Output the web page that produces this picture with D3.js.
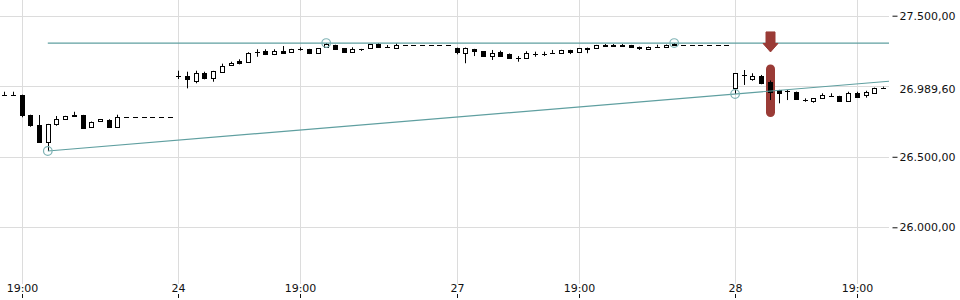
<!DOCTYPE html>
<html lang="de">
<head>
<meta charset="utf-8">
<title>Chart</title>
<script type="text/javascript" src="https://d3js.org/d3.v7.min.js"></script>
<style>
body { margin: 0; background: #fff; }
text { font-family: "DejaVu Sans", sans-serif; font-size: 11px; fill: #111; }
</style>
</head>
<body>
<div id="container"></div>
<script type="text/javascript">
// 15 min candles, index based x axis
var open = [26938,26938,26938,26796,26725,26607,26730,26766,26792,26795,26709,26751,26759,26713,
  26785,26785,26785,26785,26785,26785,
  27075,27075,27039,27092,27056,27103,27150,27181,27174,27243,27252,27231,27248,27243,27262,27264,27234,27276,27292,27269,27241,27264,27269,27299,27280,27269,
  27295,27295,27295,27295,27295,27295,
  27273,27238,27264,27248,27214,27245,27231,27198,27198,27228,27232,27237,27234,27257,27241,27273,27273,27292,27292,27292,27292,27280,27262,27280,27276,27299,
  27292,27292,27292,27292,27292,27292,
  26985,27080,27051,27073,27030,26973,26966,26961,26902,26895,26914,26931,26931,26898,26950,26938,26950,26990];
var high = [26961,26961,26940,26798,26796,26733,26789,26790,26819,26797,26750,26767,26766,26798,
  26785,26785,26785,26785,26785,26785,
  27110,27103,27110,27103,27109,27160,27174,27191,27241,27262,27262,27262,27285,27265,27276,27265,27270,27306,27294,27270,27276,27265,27298,27306,27292,27304,
  27295,27295,27295,27295,27295,27295,
  27274,27274,27265,27249,27257,27252,27232,27214,27248,27245,27245,27257,27258,27258,27270,27274,27293,27299,27299,27299,27293,27281,27281,27294,27295,27306,
  27292,27292,27292,27292,27292,27292,
  27092,27115,27092,27080,27041,26974,26973,26962,26914,26915,26950,26950,26932,26961,26961,26968,26990,26997];
var low = [26938,26938,26780,26713,26603,26541,26720,26765,26788,26699,26706,26750,26712,26709,
  26785,26785,26785,26785,26785,26785,
  27051,26985,27021,27049,27032,27096,27149,27155,27167,27209,27221,27221,27237,27242,27252,27228,27233,27275,27265,27238,27240,27250,27268,27275,27271,27268,
  27295,27295,27295,27295,27295,27295,
  27226,27163,27214,27215,27186,27209,27199,27174,27197,27209,27214,27236,27233,27228,27240,27234,27272,27284,27284,27283,27275,27257,27261,27279,27275,27286,
  27292,27292,27292,27292,27292,27292,
  26945,27009,27039,27014,26902,26879,26902,26906,26890,26883,26913,26926,26897,26897,26919,26919,26949,26989];
var close = [26938,26938,26796,26725,26607,26732,26766,26789,26795,26706,26749,26766,26713,26785,
  26785,26785,26785,26785,26785,26785,
  27074,27049,27092,27056,27108,27146,27167,27163,27233,27246,27228,27250,27238,27262,27261,27234,27269,27299,27266,27243,27264,27263,27297,27276,27281,27295,
  27295,27295,27295,27295,27295,27295,
  27245,27273,27250,27216,27238,27217,27200,27199,27238,27229,27226,27238,27257,27241,27269,27262,27292,27285,27285,27283,27276,27269,27280,27281,27294,27292,
  27292,27292,27292,27292,27292,27292,
  27092,27079,27073,27025,26956,26950,26965,26907,26903,26914,26938,26930,26898,26950,26926,26961,26990,26989.6];

var xTickIdx = [2, 20, 34, 52, 66, 84, 98];
var xTickLabels = ["19:00", "24", "19:00", "27", "19:00", "28", "19:00"];
var yTicks = [26000, 26500, 27500];
var yGrid = [26000, 26500, 27000, 27500];
var lastPrice = 26989.6;

// trend lines: [start index, anchor1 index, anchor1 price, anchor2 index, anchor2 price]
var trendFlat = [5, 37, 27306, 77, 27306];
var trendUp = [5, 5, 26541, 84, 26945];
var signalIdx = 88;

var w = 960, h = 300;
var plotRight = 889;
var svg = d3.select("div#container").append("svg")
    .attr("width", w).attr("height", h);

var x = d3.scaleLinear().domain([0, 98]).range([4.3, 856.9]);
var y = d3.scaleLinear().domain([26000, 27500]).range([227.3, 15.7]);
var de = d3.formatLocale({decimal: ",", thousands: ".", grouping: [3], currency: ["", "€"]});
var fmt = de.format(",.2f");

svg.append("clipPath").attr("id", "plot")
  .append("rect").attr("x", 0).attr("y", 0).attr("width", plotRight).attr("height", 285);

// grid
svg.selectAll("line.hgrid").data(yGrid).enter().append("line")
    .attr("class", "hgrid")
    .attr("x1", 0).attr("x2", plotRight)
    .attr("y1", d => Math.round(y(d)) + 0.5).attr("y2", d => Math.round(y(d)) + 0.5)
    .attr("stroke", "#dcdcdc");
svg.selectAll("line.vgrid").data(xTickIdx).enter().append("line")
    .attr("class", "vgrid")
    .attr("x1", d => Math.round(x(d)) + 0.5).attr("x2", d => Math.round(x(d)) + 0.5)
    .attr("y1", 0).attr("y2", 284)
    .attr("stroke", "#dcdcdc");

// x labels + ticks
svg.selectAll("text.xlab").data(xTickIdx).enter().append("text")
    .attr("class", "xlab")
    .attr("x", d => Math.round(x(d)) + 0.5).attr("y", 291.7)
    .attr("text-anchor", "middle")
    .text((d, i) => xTickLabels[i]);
svg.selectAll("line.xtick").data(xTickIdx).enter().append("line")
    .attr("class", "xtick")
    .attr("x1", d => Math.round(x(d)) + 0.5).attr("x2", d => Math.round(x(d)) + 0.5)
    .attr("y1", 294).attr("y2", 298)
    .attr("stroke", "#111");

// y axis
var yAxis = d3.axisRight(y).tickValues(yTicks).tickSize(5).tickPadding(2).tickFormat(fmt);
var ya = svg.append("g").attr("transform", "translate(892.5,0)").call(yAxis);
ya.select(".domain").remove();
ya.selectAll("line").attr("stroke", "#111");
ya.selectAll("text").style("font-family", "DejaVu Sans").style("font-size", "11px").attr("fill", "#111");
svg.append("text").attr("x", 899.5).attr("y", y(lastPrice) + 2).attr("dy", "0.32em")
    .text(fmt(lastPrice));

var plot = svg.append("g").attr("clip-path", "url(#plot)");

// signal bar behind the candle
var sx = Math.round(x(signalIdx)) + 0.5;
var barTop = y(high[signalIdx]) - 16, barBot = y(low[signalIdx]) + 17;
plot.append("rect")
    .attr("x", sx - 4.5).attr("width", 9)
    .attr("y", barTop).attr("height", barBot - barTop)
    .attr("rx", 4.5).attr("ry", 4.5)
    .attr("fill", "#9a3b36");

// candles
var idx = d3.range(open.length);
var c = plot.selectAll("g.candle").data(idx).enter().append("g").attr("class", "candle");
c.append("line")
    .attr("x1", i => Math.round(x(i)) + 0.5).attr("x2", i => Math.round(x(i)) + 0.5)
    .attr("y1", i => y(high[i])).attr("y2", i => y(low[i]))
    .attr("stroke", "#000");
c.append("rect")
    .attr("x", i => Math.round(x(i)) - 1.5)
    .attr("width", 4)
    .attr("y", i => Math.round(y(Math.max(open[i], close[i]))) + 0.5)
    .attr("height", i => Math.max(Math.round(y(Math.min(open[i], close[i]))) - Math.round(y(Math.max(open[i], close[i]))), 0.001))
    .attr("fill", i => close[i] > open[i] + 2 ? "#fff" : "#000")
    .attr("stroke", "#000");

// trend lines
function trendPrice(t, i) {
  return t[2] + (t[4] - t[2]) * (i - t[1]) / (t[3] - t[1]);
}
var endIdx = x.invert(plotRight);
[trendFlat, trendUp].forEach(function(t) {
  plot.append("line")
    .attr("x1", x(t[0])).attr("y1", y(trendPrice(t, t[0])))
    .attr("x2", x(endIdx)).attr("y2", y(trendPrice(t, endIdx)))
    .attr("stroke", "#5f9fa0").attr("stroke-width", 1.2);
  [[t[1], t[2]], [t[3], t[4]]].forEach(function(p) {
    plot.append("circle")
      .attr("cx", x(p[0])).attr("cy", y(p[1])).attr("r", 4.3)
      .attr("fill", "none").attr("stroke", "#7fb3b5").attr("stroke-width", 1.2);
  });
});

// signal arrow
var tip = barTop - 12.5;
plot.append("path")
    .attr("d", "M" + (sx - 4.5) + "," + (tip - 20) + " h9 v11.5 h3 L" + sx + "," + tip +
      " L" + (sx - 7.5) + "," + (tip - 8.5) + " h3 Z")
    .attr("fill", "#9a3b36").attr("stroke", "#9a3b36").attr("stroke-linejoin", "round");
</script>
</body>
</html>
